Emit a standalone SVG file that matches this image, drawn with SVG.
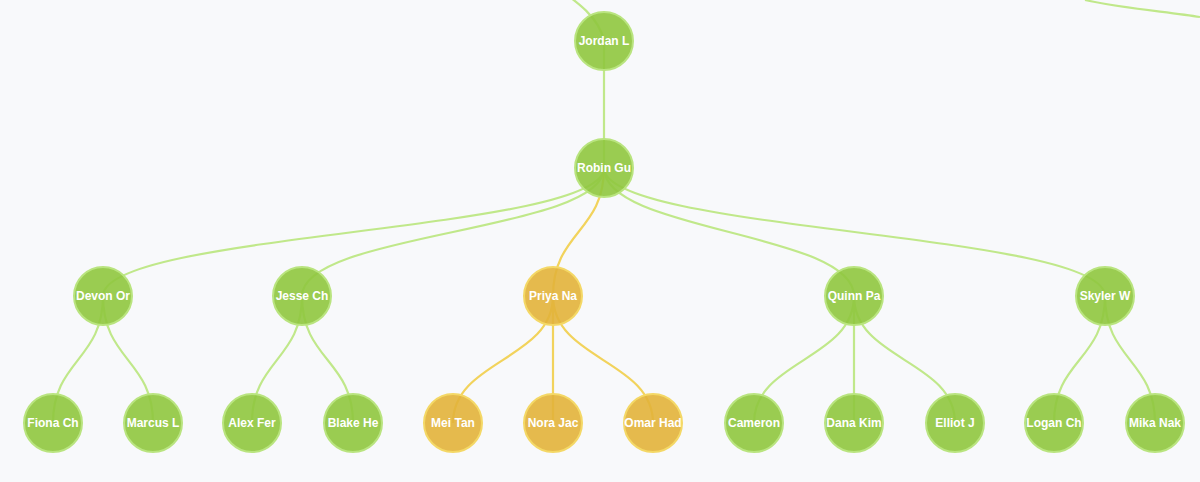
<svg xmlns="http://www.w3.org/2000/svg" width="1200" height="482" viewBox="0 0 1200 482">
<style>
.l{fill:none;stroke-width:2.2}
.g{stroke:#c0e88a}
.y{stroke:#f2d35c}
.n circle{stroke-width:2}
.gn circle{fill:#8fc73e;fill-opacity:0.9;stroke:#b9e47f}
.yn circle{fill:#e2b33a;fill-opacity:0.9;stroke:#f4d866}
.n text{font-family:"Liberation Sans",Arial,sans-serif;font-size:12px;font-weight:bold;fill:#fff;text-anchor:middle;dominant-baseline:central}
</style>
<rect width="1200" height="482" fill="#f8f9fb"/>
<g id="connectors">
<path class="l g" d="M540,-25 C560,-8 598,10 604,41"/>
<path class="l g" d="M1085,0 C1120,8 1170,12 1200,17"/>
<path class="l g" d="M604,41 L604,168"/>
<path class="l g" d="M604,168 C604,232 103,232 103,296"/>
<path class="l g" d="M604,168 C604,232 302,232 302,296"/>
<path class="l y" d="M604,168 C604,232 553,232 553,296"/>
<path class="l g" d="M604,168 C604,232 854,232 854,296"/>
<path class="l g" d="M604,168 C604,232 1105,232 1105,296"/>
<path class="l g" d="M103,296 C103,360 53,360 53,423"/>
<path class="l g" d="M103,296 C103,360 153,360 153,423"/>
<path class="l g" d="M302,296 C302,360 252,360 252,423"/>
<path class="l g" d="M302,296 C302,360 353,360 353,423"/>
<path class="l y" d="M553,296 C553,360 453,360 453,423"/>
<path class="l y" d="M553,296 L553,423"/>
<path class="l y" d="M553,296 C553,360 653,360 653,423"/>
<path class="l g" d="M854,296 C854,360 754,360 754,423"/>
<path class="l g" d="M854,296 L854,423"/>
<path class="l g" d="M854,296 C854,360 955,360 955,423"/>
<path class="l g" d="M1105,296 C1105,360 1054,360 1054,423"/>
<path class="l g" d="M1105,296 C1105,360 1155,360 1155,423"/>
</g>
<g id="jordan" class="n gn"><circle cx="604" cy="41" r="29"/><text x="604" y="41">Jordan L</text></g>
<g id="robin" class="n gn"><circle cx="604" cy="168" r="29"/><text x="604" y="168">Robin Gu</text></g>
<g id="devon" class="n gn"><circle cx="103" cy="296" r="29"/><text x="103" y="296">Devon Or</text></g>
<g id="jesse" class="n gn"><circle cx="302" cy="296" r="29"/><text x="302" y="296">Jesse Ch</text></g>
<g id="priya" class="n yn"><circle cx="553" cy="296" r="29"/><text x="553" y="296">Priya Na</text></g>
<g id="quinn" class="n gn"><circle cx="854" cy="296" r="29"/><text x="854" y="296">Quinn Pa</text></g>
<g id="skyler" class="n gn"><circle cx="1105" cy="296" r="29"/><text x="1105" y="296">Skyler W</text></g>
<g id="fiona" class="n gn"><circle cx="53" cy="423" r="29"/><text x="53" y="423">Fiona Ch</text></g>
<g id="marcus" class="n gn"><circle cx="153" cy="423" r="29"/><text x="153" y="423">Marcus L</text></g>
<g id="alex" class="n gn"><circle cx="252" cy="423" r="29"/><text x="252" y="423">Alex Fer</text></g>
<g id="blake" class="n gn"><circle cx="353" cy="423" r="29"/><text x="353" y="423">Blake He</text></g>
<g id="mei" class="n yn"><circle cx="453" cy="423" r="29"/><text x="453" y="423">Mei Tan</text></g>
<g id="nora" class="n yn"><circle cx="553" cy="423" r="29"/><text x="553" y="423">Nora Jac</text></g>
<g id="omar" class="n yn"><circle cx="653" cy="423" r="29"/><text x="653" y="423">Omar Had</text></g>
<g id="cameron" class="n gn"><circle cx="754" cy="423" r="29"/><text x="754" y="423">Cameron</text></g>
<g id="dana" class="n gn"><circle cx="854" cy="423" r="29"/><text x="854" y="423">Dana Kim</text></g>
<g id="elliot" class="n gn"><circle cx="955" cy="423" r="29"/><text x="955" y="423">Elliot J</text></g>
<g id="logan" class="n gn"><circle cx="1054" cy="423" r="29"/><text x="1054" y="423">Logan Ch</text></g>
<g id="mika" class="n gn"><circle cx="1155" cy="423" r="29"/><text x="1155" y="423">Mika Nak</text></g>
</svg>
